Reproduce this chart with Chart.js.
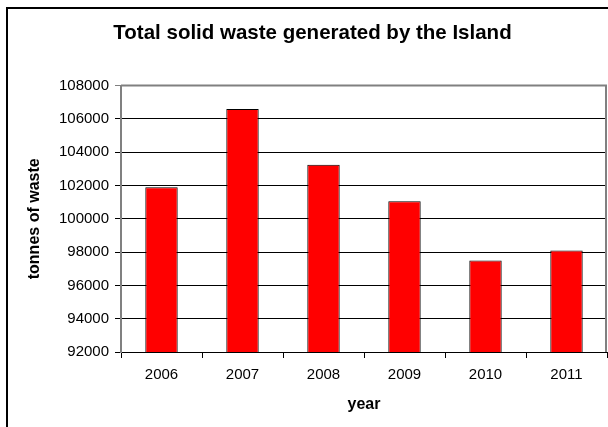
<!DOCTYPE html>
<html>
<head>
<meta charset="utf-8">
<script src="https://cdn.jsdelivr.net/npm/chart.js@4/dist/chart.umd.min.js"></script>
<style>
  html, body { margin: 0; padding: 0; background: #ffffff; }
  #wrap { width: 608px; height: 427px; }
</style>
</head>
<body>
<div id="wrap"><canvas id="c" width="608" height="427"></canvas></div>
<script>
const chartTitle = "Total solid waste generated by the Island";
const xAxisTitle = "year";
const yAxisTitle = "tonnes of waste";
const years = ["2006", "2007", "2008", "2009", "2010", "2011"];
const wasteTonnes = [101900, 106600, 103250, 101050, 97500, 98100];
const yMin = 92000;
const yMax = 108000;
const yStep = 2000;

const FONT = "'Liberation Sans', Arial, sans-serif";

const frameAndBorder = {
  id: 'frameAndBorder',
  beforeDraw(chart) {
    const ctx = chart.ctx;
    ctx.save();
    ctx.fillStyle = '#ffffff';
    ctx.fillRect(0, 0, chart.width, chart.height);
    ctx.strokeStyle = '#000000';
    ctx.lineWidth = 2;
    ctx.strokeRect(7, 8, chart.width + 20, chart.height + 20);
    ctx.restore();
  },
  beforeDatasetsDraw(chart) {
    const a = chart.chartArea;
    const ctx = chart.ctx;
    ctx.save();
    ctx.strokeStyle = '#808080';
    ctx.lineWidth = 2;
    ctx.beginPath();
    ctx.moveTo(a.left, a.top);
    ctx.lineTo(a.right - 1, a.top);
    ctx.lineTo(a.right - 1, a.bottom);
    ctx.stroke();
    ctx.restore();
  }
};

new Chart(document.getElementById('c'), {
  type: 'bar',
  data: {
    labels: years,
    datasets: [{
      data: wasteTonnes,
      backgroundColor: '#ff0000',
      borderColor: '#000000',
      borderWidth: 1,
      barPercentage: 0.4,
      categoryPercentage: 1.0
    }]
  },
  options: {
    responsive: false,
    animation: false,
    devicePixelRatio: 1,
    layout: { padding: { left: 18, right: 1, top: 0, bottom: 0 } },
    plugins: {
      legend: { display: false },
      tooltip: { enabled: false },
      title: {
        display: true,
        text: chartTitle,
        color: '#000000',
        font: { family: FONT, size: 20.5, weight: 'bold' },
        padding: { top: 21, bottom: 40 }
      }
    },
    scales: {
      x: {
        offset: true,
        grid: {
          display: true,
          offset: true,
          drawOnChartArea: false,
          drawTicks: true,
          tickLength: 6,
          color: '#000000',
          lineWidth: 1
        },
        border: { display: true, color: '#000000', width: 1 },
        ticks: {
          color: '#000000',
          font: { family: FONT, size: 15 },
          padding: 8,
          maxRotation: 0
        },
        title: {
          display: true,
          text: xAxisTitle,
          color: '#000000',
          font: { family: FONT, size: 16, weight: 'bold' },
          padding: { top: 0, bottom: 13 }
        },
        afterFit(scale) { scale.height = 75; }
      },
      y: {
        min: yMin,
        max: yMax,
        grid: {
          color: (c) => (c.tick && c.tick.value === yMax) ? '#808080' : '#000000',
          lineWidth: 1,
          tickLength: 6,
          drawTicks: true
        },
        border: { display: true, color: '#808080', width: 2 },
        ticks: {
          stepSize: yStep,
          color: '#000000',
          font: { family: FONT, size: 15 },
          padding: 6,
          callback: (v) => String(v)
        },
        title: {
          display: true,
          text: yAxisTitle,
          color: '#000000',
          font: { family: FONT, size: 16, weight: 'bold' },
          padding: { top: 7, bottom: 0 }
        },
        afterFit(scale) { scale.width = 103; }
      }
    }
  },
  plugins: [frameAndBorder]
});
</script>
</body>
</html>
